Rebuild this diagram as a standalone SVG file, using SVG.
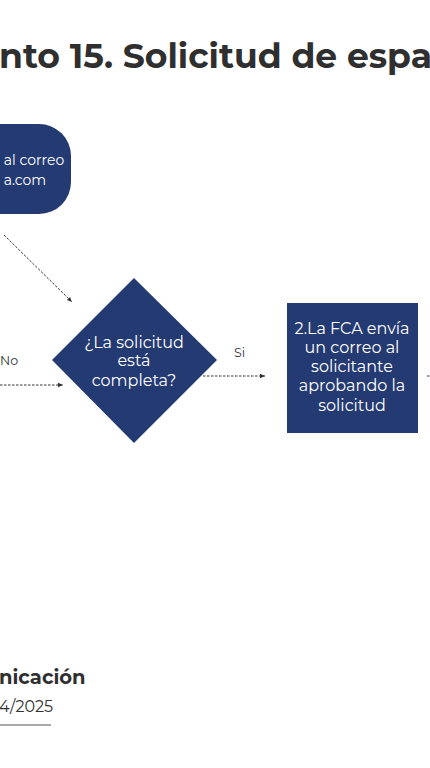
<svg xmlns="http://www.w3.org/2000/svg" width="430" height="768" viewBox="0 0 430 768">
<defs>
<style>
.shape{fill:#243a73}
.wt{fill:#ffffff;font-family:Montserrat,"Noto Sans","Liberation Sans",sans-serif;font-weight:400;text-anchor:middle}
.lbl{fill:#333333;font-family:Montserrat,"Noto Sans","Liberation Sans",sans-serif;font-weight:400;font-size:12.5px}
.dash{stroke:#333333;stroke-width:1;fill:none;stroke-dasharray:2.5 1.5}
</style>
<marker id="ah" markerWidth="6" markerHeight="6" refX="5" refY="3" orient="auto" markerUnits="userSpaceOnUse">
<path d="M0,0.8 L5,3 L0,5.2 Z" fill="#333333"/>
</marker>
</defs>
<rect width="430" height="768" fill="#ffffff"/>
<g id="title">
<text x="-1" y="68" font-family="Montserrat,'Noto Sans','Liberation Sans',sans-serif" font-weight="700" font-size="34" fill="#2f2f2f" textLength="433" lengthAdjust="spacingAndGlyphs">nto 15. Solicitud de espa</text>
</g>
<g id="start">
<rect class="shape" x="-60" y="124" width="131" height="90" rx="32" ry="32"/>
<text class="wt" x="34" y="165" font-size="14">al correo</text>
<text class="wt" x="25" y="185" font-size="14">a.com</text>
</g>
<g id="decision">
<polygon class="shape" points="134,278 217,360 134,443 52,360"/>
<text class="wt" x="134" y="348" font-size="16">¿La solicitud</text>
<text class="wt" x="134" y="366" font-size="16">está</text>
<text class="wt" x="134" y="386" font-size="16">completa?</text>
</g>
<g id="step2">
<rect class="shape" x="287" y="303" width="131" height="130"/>
<text class="wt" x="352" y="334" font-size="16">2.La FCA envía</text>
<text class="wt" x="352" y="353" font-size="16">un correo al</text>
<text class="wt" x="352" y="372" font-size="16">solicitante</text>
<text class="wt" x="352" y="391" font-size="16">aprobando la</text>
<text class="wt" x="352" y="411" font-size="16">solicitud</text>
</g>
<g id="connectors">
<line class="dash" x1="4" y1="235" x2="72" y2="302" marker-end="url(#ah)"/>
<line class="dash" x1="0" y1="385" x2="63" y2="385" marker-end="url(#ah)"/>
<line class="dash" x1="203" y1="376" x2="265" y2="376" marker-end="url(#ah)"/>
<line class="dash" x1="427" y1="376" x2="430" y2="376"/>
<text class="lbl" x="0" y="365">No</text>
<text class="lbl" x="234" y="357">Si</text>
</g>
<g id="footer">
<text x="-1" y="684" font-family="Montserrat,'Noto Sans','Liberation Sans',sans-serif" font-weight="700" font-size="19.5" fill="#2f2f2f">nicación</text>
<text x="-1" y="712" font-family="Montserrat,'Noto Sans','Liberation Sans',sans-serif" font-weight="400" font-size="16" fill="#333333">4/2025</text>
<line x1="0" y1="725" x2="51" y2="725" stroke="#555555" stroke-width="1"/>
</g>
</svg>
